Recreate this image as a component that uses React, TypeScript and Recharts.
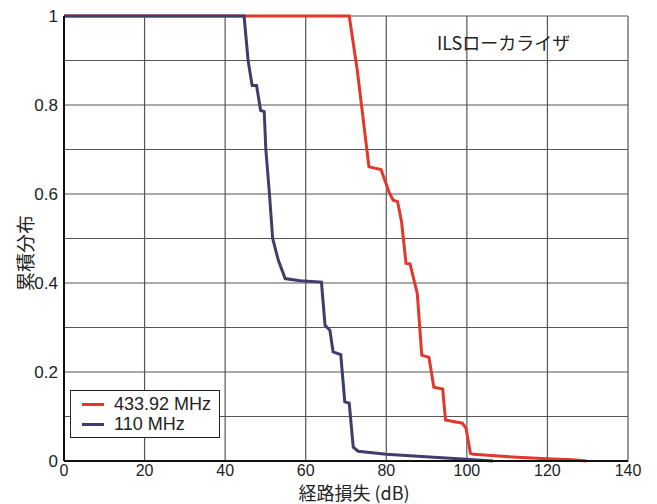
import { LineChart, Line, XAxis, YAxis, CartesianGrid, Label } from 'recharts';

// 経路損失 (dB) と累積分布の読み取り値
const ilsLossRed = [0, 70.8, 72.8, 75.7, 78.7, 80.7, 81.7, 82.8, 83.8, 84.9, 85.9, 87.7, 88.8, 90.6, 91.8, 94.0, 94.7, 98.9, 99.8, 100.9, 101.6, 109.8, 119.8, 126.4, 129.7];
const ilsCdfRed = [1, 1, 0.878, 0.661, 0.655, 0.604, 0.586, 0.583, 0.537, 0.444, 0.443, 0.376, 0.238, 0.233, 0.166, 0.162, 0.092, 0.085, 0.073, 0.017, 0.015, 0.01, 0.005, 0.003, 0];

const ilsLossBlue = [0, 44.7, 45.2, 45.7, 46.7, 47.8, 48.8, 49.7, 50.1, 51.0, 51.8, 53.2, 54.9, 58.6, 63.9, 64.8, 66.0, 66.8, 68.7, 69.7, 70.8, 71.8, 73.0, 80.0, 90.8, 99.9, 106.5];
const ilsCdfBlue = [1, 1, 0.95, 0.9, 0.844, 0.844, 0.788, 0.785, 0.7, 0.6, 0.5, 0.451, 0.41, 0.405, 0.402, 0.305, 0.294, 0.245, 0.239, 0.133, 0.13, 0.031, 0.022, 0.015, 0.009, 0.004, 0];

const xTicks = [0, 20, 40, 60, 80, 100, 120, 140];
const yTicks = [0, 0.1, 0.2, 0.3, 0.4, 0.5, 0.6, 0.7, 0.8, 0.9, 1];
const yLabels = ['0', '', '0.2', '', '0.4', '', '0.6', '', '0.8', '', '1'];

const SERIES = [
  { name: '433.92 MHz', color: '#e3372c', loss: ilsLossRed, cdf: ilsCdfRed },
  { name: '110 MHz', color: '#3e3d6c', loss: ilsLossBlue, cdf: ilsCdfBlue },
];

const LATIN = '"Liberation Sans", Arial, sans-serif';
const JP = '"Noto Sans CJK JP", "Liberation Sans", sans-serif';

export default function App() {
  return (
    <div style={{ position: 'absolute', left: 0, top: 0, width: 657, height: 504, background: '#fff' }}>
      <LineChart width={657} height={504} margin={{ top: 16, right: 29, bottom: 0, left: 0 }}>
        <CartesianGrid stroke="#555" strokeWidth={1.2} />
        <XAxis
          type="number"
          dataKey="x"
          domain={[0, 140]}
          ticks={xTicks}
          height={43}
          tickSize={4}
          tickMargin={0}
          tickLine={false}
          axisLine={{ stroke: '#111', strokeWidth: 2 }}
          tick={{ fill: '#222', fontSize: 16, fontFamily: LATIN }}
        >
          <Label
            content={({ viewBox }: any) => (
              <text x={viewBox.x + 290} y={viewBox.y + 39} textAnchor="middle" fill="#222" fontSize={18} fontFamily={JP}>
                経路損失 (dB)
              </text>
            )}
          />
        </XAxis>
        <YAxis
          type="number"
          domain={[0, 1]}
          ticks={yTicks}
          width={64}
          tickSize={4}
          tickMargin={2}
          tickLine={false}
          axisLine={{ stroke: '#111', strokeWidth: 2 }}
          tickFormatter={(v: number) => yLabels[Math.round(v * 10)]}
          tick={{ fill: '#222', fontSize: 17, fontFamily: LATIN }}
        >
          <Label
            content={() => (
              <text
                x={24}
                y={253}
                transform="rotate(-90 24 253)"
                textAnchor="middle"
                dominantBaseline="central"
                fill="#222"
                fontSize={19}
                fontFamily={JP}
              >
                累積分布
              </text>
            )}
          />
        </YAxis>
        {SERIES.map((s) => (
          <Line
            key={s.name}
            name={s.name}
            data={s.loss.map((x, i) => ({ x, y: s.cdf[i] }))}
            dataKey="y"
            type="linear"
            stroke={s.color}
            strokeWidth={3}
            dot={false}
            activeDot={false}
            isAnimationActive={false}
          />
        ))}
      </LineChart>
      <div
        style={{
          position: 'absolute', left: 70, top: 390, width: 150, height: 48, boxSizing: 'border-box',
          border: '1.5px solid #222', background: '#fff', padding: '3px 0 0 11px',
          fontFamily: LATIN, fontSize: 18, color: '#222', lineHeight: '20px',
        }}
      >
        {SERIES.map((s) => (
          <div key={s.name} style={{ display: 'flex', alignItems: 'center' }}>
            <span style={{ display: 'inline-block', width: 22, height: 3, background: s.color, marginRight: 10 }} />
            {s.name}
          </div>
        ))}
      </div>
      <div style={{ position: 'absolute', left: 437, top: 30, fontFamily: JP, fontSize: 18, color: '#222', lineHeight: '24px' }}>
        ILSローカライザ
      </div>
    </div>
  );
}
